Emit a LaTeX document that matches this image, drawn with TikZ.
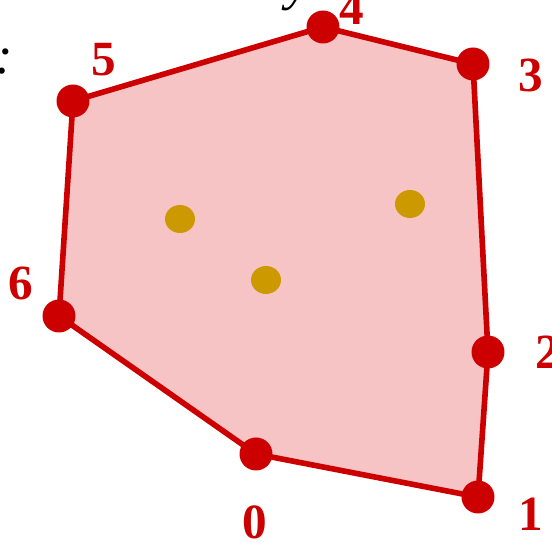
\documentclass[tikz,border=0pt]{standalone}
\usepackage{fontspec}
\setmainfont{Liberation Serif}
\usetikzlibrary{positioning, shapes.geometric}

\definecolor{hullred}{RGB}{204,0,0}
\definecolor{hullfill}{RGB}{246,196,196}
\definecolor{ptgold}{RGB}{204,153,0}

\begin{document}
\begin{tikzpicture}[
        x=0.02cm, y=-0.02cm,
        vtx/.style={circle, fill=hullred, inner sep=0pt, minimum size=0.66cm},
        inpt/.style={ellipse, fill=ptgold, inner sep=0pt, minimum width=0.6cm, minimum height=0.56cm},
        hull/.style={draw=hullred, line width=3.2pt, fill=hullfill, line join=round},
        lbl/.style={text=hullred, font=\fontsize{28}{28}\selectfont\bfseries, inner sep=0pt},
        frag/.style={text=black, font=\fontsize{30}{30}\selectfont\itshape, inner sep=0pt}
    ]
        \useasboundingbox (0,0) rectangle (552,543);
        \node[frag] (colon) at (4,62) {:};
        \node[frag, anchor=south] (why) at (298,11) {y};
        \coordinate (p0) at (256,454);
        \coordinate (p1) at (478,497);
        \coordinate (p2) at (488,352);
        \coordinate (p3) at (473,64);
        \coordinate (p4) at (323,27);
        \coordinate (p5) at (73,101);
        \coordinate (p6) at (59,316);
        \filldraw[hull] (p0) -- (p1) -- (p2) -- (p3) -- (p4) -- (p5) -- (p6) -- cycle;
        \node[inpt] (q1) at (180,219) {};
        \node[inpt] (q2) at (410,204) {};
        \node[inpt] (q3) at (266,280) {};
        \foreach \i in {0,...,6}
            \node[vtx] (v\i) at (p\i) {};
        \node[lbl] (l0) at (255,522) {0};
        \node[lbl] (l1) at (531,514) {1};
        \node[lbl] (l2) at (548,352) {2};
        \node[lbl] (l3) at (531,75) {3};
        \node[lbl] (l4) at (352,8) {4};
        \node[lbl] (l5) at (104,60) {5};
        \node[lbl] (l6) at (21,283) {6};
    \end{tikzpicture}
\end{document}
